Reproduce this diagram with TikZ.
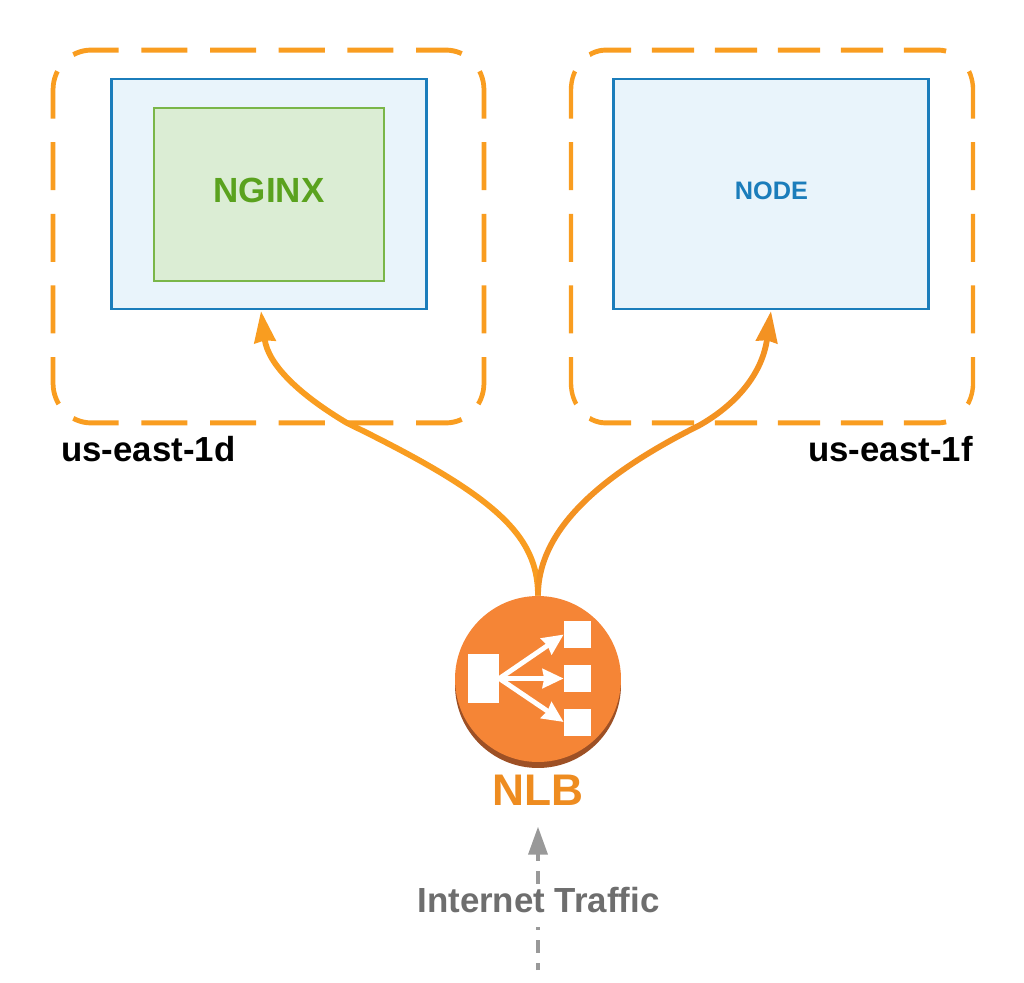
\documentclass[tikz,border=0pt]{standalone}
\usepackage{fontspec}
\setmainfont{Liberation Sans}
\usepackage{xcolor}
\usetikzlibrary{arrows.meta, positioning, calc}
\definecolor{flowcol}{HTML}{F99D20}
\definecolor{flowdark}{HTML}{F39222}
\definecolor{nlbtext}{HTML}{EE8C20}
\definecolor{lbcol}{HTML}{F58536}
\definecolor{lbdark}{HTML}{9D5025}
\definecolor{bluecol}{HTML}{1B7DBB}
\definecolor{bluefill}{HTML}{E9F4FB}
\definecolor{greencol}{HTML}{7AB648}
\definecolor{greenfill}{HTML}{DBEDD4}
\definecolor{greentext}{HTML}{5AA21E}
\tikzset{
    zone/.style={rectangle, outer sep=0pt, inner sep=0pt},
    zoneline/.style={draw=flowcol, line width=2.7pt, dash pattern=on 26.2pt off 12.9pt, dash phase=32.6pt},
    hostbox/.style={rectangle, draw=bluecol, fill=bluefill, line width=1.6pt, minimum width=6.31cm, minimum height=4.6cm},
    appbox/.style={rectangle, draw=greencol, fill=greenfill, line width=1.6pt, minimum width=4.6cm, minimum height=3.46cm},
    flow/.style={line width=3.3pt, -{Stealth[length=0.62cm, width=0.42cm, inset=0.03cm]}},
    lbbox/.style={rectangle, fill=white, inner sep=0pt},
    lbarrow/.style={draw=white, line width=2.8pt, -{Stealth[length=0.42cm, width=0.38cm, inset=0.03cm]}},
    zonelabel/.style={font=\fontsize{19.8}{22}\selectfont\bfseries, inner sep=0pt}
}
% each side runs from the middle of one corner to the middle of the next
\newcommand{\zoneoutline}[1]{
    \draw[zoneline] ($(#1.north west)+(11.13,11.13)$) arc[start angle=135, end angle=90, radius=0.76cm] -- ($(#1.north east)+(-38,0)$) arc[start angle=90, end angle=45, radius=0.76cm];
    \draw[zoneline] ($(#1.south west)+(11.13,-11.13)$) arc[start angle=225, end angle=270, radius=0.76cm] -- ($(#1.south east)+(-38,0)$) arc[start angle=270, end angle=315, radius=0.76cm];
    \draw[zoneline] ($(#1.north west)+(11.13,11.13)$) arc[start angle=135, end angle=180, radius=0.76cm] -- ($(#1.south west)+(0,-38)$) arc[start angle=180, end angle=225, radius=0.76cm];
    \draw[zoneline] ($(#1.north east)+(-11.13,11.13)$) arc[start angle=45, end angle=0, radius=0.76cm] -- ($(#1.south east)+(0,-38)$) arc[start angle=0, end angle=-45, radius=0.76cm];
}
\begin{document}
\begin{tikzpicture}[x=0.02cm, y=-0.02cm]
    \useasboundingbox (0,0) rectangle (1024,983);
    % availability zones
    \begin{scope}[transform canvas={yscale=1.043}]
        \node[zone, minimum width=8.62cm, minimum height=7.15cm] (zoned) at (268.5,226.75) {};
        \zoneoutline{zoned}
    \end{scope}
    \begin{scope}[transform canvas={xscale=0.917, yscale=1.043}]
        \node[zone, minimum width=8.77cm, minimum height=7.15cm] (zonef) at (841.9,226.75) {};
        \zoneoutline{zonef}
    \end{scope}
    \node[zonelabel, anchor=west] (labeld) at (61,449) {us-east-1d};
    \node[zonelabel, anchor=east] (labelf) at (973,449) {us-east-1f};
    % hosts
    \node[hostbox] (hostd) at (269,194) {};
    \node[hostbox] (hostf) at (771,194) {};
    \node[appbox] (nginx) at (269,194.5) {};
    \node[text=greentext, font=\fontsize{19.9}{22}\selectfont\bfseries, inner sep=0pt] (nginxlabel) at (269,190) {NGINX};
    \node[text=bluecol, font=\fontsize{14.4}{16}\selectfont\bfseries, inner sep=0pt] (nodelabel) at (771.5,191) {NODE};
    % load balancer
    \node[circle, fill=lbdark, minimum size=3.32cm, inner sep=0pt] (nlbshade) at (538,685) {};
    \node[circle, fill=lbcol, minimum size=3.32cm, inner sep=0pt] (nlb) at (538,679) {};
    \node[lbbox, minimum width=0.62cm, minimum height=0.98cm] (lbin) at (483.5,678.5) {};
    \node[lbbox, minimum size=0.54cm] (lba) at (577.5,634.5) {};
    \node[lbbox, minimum size=0.54cm] (lbb) at (577.5,678.5) {};
    \node[lbbox, minimum size=0.54cm] (lbc) at (577.5,722) {};
    \draw[lbarrow] (lbin.east) -- (lba.west);
    \draw[lbarrow] (lbin.east) -- (lbb.west);
    \draw[lbarrow] (lbin.east) -- (lbc.west);
    \node[text=nlbtext, font=\fontsize{25.2}{28}\selectfont\bfseries, inner sep=0pt] (nlblabel) at (538,790) {NLB};
    % flows
    \coordinate (tipd) at (261,311);
    \coordinate (tipf) at (771,311);
    \draw[flow, draw=flowcol] (nlb.north) .. controls (538,535) and (495,495) .. (347,423) .. controls (300,395) and (268,365) .. (tipd);
    \draw[flow, draw=flowdark] (nlb.north) .. controls (538,525) and (610,470) .. (700,425) .. controls (735,405) and (762,375) .. (tipf);
    % internet traffic
    \coordinate (trafficstart) at (538,970);
    \draw[draw=black!40, line width=2.1pt, dash pattern=on 7.4pt off 5.7pt, dash phase=3.4pt, -{Triangle[length=0.56cm, width=0.38cm]}, shorten >=12pt] (trafficstart) -- (nlblabel.south);
    \node[fill=white, text=black!57, font=\fontsize{19.85}{22}\selectfont\bfseries, inner xsep=0pt, inner ysep=0pt, text height=15.4pt, text depth=8.5pt] (traffic) at (538.5,906) {Internet Traffic};
\end{tikzpicture}
\end{document}
